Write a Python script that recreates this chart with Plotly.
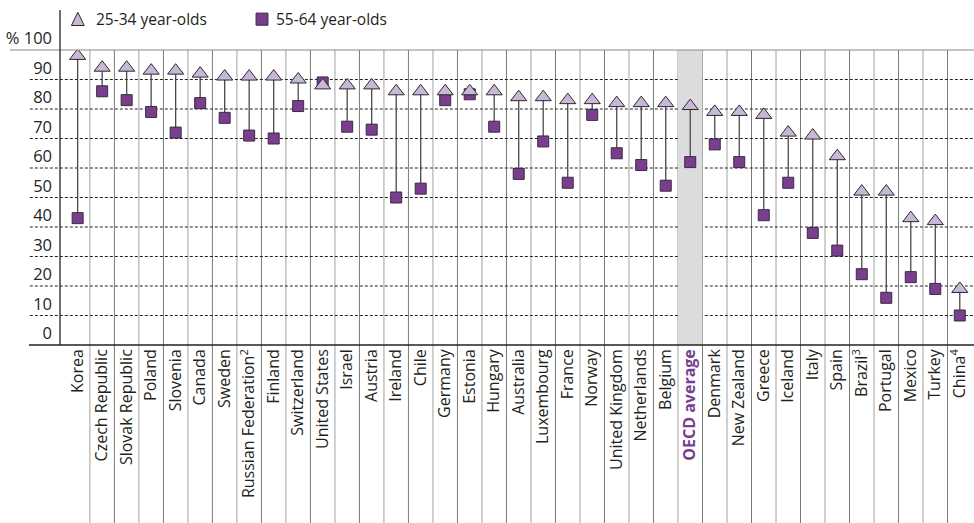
import plotly.graph_objects as go

countries = ["Korea", "Czech Republic", "Slovak Republic", "Poland", "Slovenia", "Canada",
             "Sweden", "Russian Federation<sup>2</sup>", "Finland", "Switzerland", "United States",
             "Israel", "Austria", "Ireland", "Chile", "Germany", "Estonia", "Hungary", "Australia",
             "Luxembourg", "France", "Norway", "United Kingdom", "Netherlands", "Belgium",
             "OECD average", "Denmark", "New Zealand", "Greece", "Iceland", "Italy", "Spain",
             "Brazil<sup>3</sup>", "Portugal", "Mexico", "Turkey", "China<sup>4</sup>"]
young = [98, 94, 94, 93, 93, 92, 91, 91, 91, 90, 88, 88, 88, 86, 86, 86, 86, 86, 84, 84, 83,
         83, 82, 82, 82, 81, 79, 79, 78, 72, 71, 64, 52, 52, 43, 42, 19]
old = [43, 86, 83, 79, 72, 82, 77, 71, 70, 81, 89, 74, 73, 50, 53, 83, 85, 74, 58, 69, 55,
       78, 65, 61, 54, 62, 68, 62, 44, 55, 38, 32, 24, 16, 23, 19, 10]
ytick_vals = [0, 10, 20, 30, 40, 50, 60, 70, 80, 90, 100]
ytick_text = ["0", "10", "20", "30", "40", "50", "60", "70", "80", "90", "% 100"]
legend_names = ["25-34 year-olds", "55-64 year-olds"]
highlight = "OECD average"

TXT = "#231f20"
PURPLE = "#7a3e8f"
LILAC = "#c9b7d8"
FONT = "Open Sans"

n = len(countries)
xs = list(range(n))
hi = countries.index(highlight)
xmin = -0.72
ticktext = [f"<b><span style='color:{PURPLE}'>{c}</span></b>" if c == highlight else c
            for c in countries]

lx, ly = [], []
for i in xs:
    lx += [i, i, None]
    ly += [young[i], old[i], None]

fig = go.Figure()
fig.add_trace(go.Scatter(x=lx, y=ly, mode="lines", line=dict(color="#4a4a4a", width=1.3),
                         showlegend=False, hoverinfo="skip"))
fig.add_trace(go.Scatter(x=xs, y=old, mode="markers", name=legend_names[1],
                         marker=dict(symbol="square", size=11, color=PURPLE,
                                     line=dict(color="#3a2a40", width=1)), showlegend=False))
fig.add_trace(go.Scatter(x=xs, y=young, mode="markers", name=legend_names[0],
                         marker=dict(symbol="triangle-up", size=14, color=LILAC,
                                     line=dict(color="#2a2a2a", width=1)), showlegend=False))

shapes = []
# highlight band
shapes.append(dict(type="rect", xref="x", yref="y", x0=hi - 0.5, x1=hi + 0.5, y0=0, y1=100,
                   fillcolor="#dcdcde", line=dict(width=0), layer="below"))
# column separators extending into label area
for k in range(n - 1):
    shapes.append(dict(type="line", xref="x", yref="paper", x0=k + 0.5, x1=k + 0.5,
                       y0=-0.61, y1=1, line=dict(color="#a0a0a0" if k % 2 == 0 else "#7a7a7a",
                                                 width=1), layer="below"))
# dashed gridlines
for v in ytick_vals[1:-1]:
    shapes.append(dict(type="line", xref="paper", yref="y", x0=-0.033, x1=1, y0=v, y1=v,
                       line=dict(color="#222", width=1, dash="3px,2px"), layer="below"))
# top line and baseline
shapes.append(dict(type="line", xref="paper", yref="paper", x0=-0.055, x1=1, y0=1, y1=1,
                   line=dict(color="#8a8a8a", width=1.2)))
shapes.append(dict(type="line", xref="paper", yref="paper", x0=-0.034, x1=1, y0=0, y1=0,
                   line=dict(color="#222", width=1.3)))
# y axis line (extended above plot)
shapes.append(dict(type="line", xref="paper", yref="paper", x0=0, x1=0,
                   y0=0, y1=1.136, line=dict(color="#222", width=1.3)))
# legend symbols
shapes.append(dict(type="path", xref="paper", yref="paper",
                   path="M 0.0125 1.083 L 0.0265 1.083 L 0.0195 1.128 Z",
                   fillcolor=LILAC, line=dict(color="#2a2a2a", width=1)))
shapes.append(dict(type="rect", xref="paper", yref="paper", x0=0.2145, x1=0.2275,
                   y0=1.084, y1=1.125, fillcolor=PURPLE, line=dict(color="#3a2a40", width=1)))

annotations = [
    dict(xref="paper", yref="paper", x=0.037, y=1.106, text=legend_names[0], showarrow=False,
         xanchor="left", yanchor="middle", font=dict(family=FONT, size=15.5, color=TXT)),
    dict(xref="paper", yref="paper", x=0.234, y=1.106, text=legend_names[1], showarrow=False,
         xanchor="left", yanchor="middle", font=dict(family=FONT, size=15.5, color=TXT)),
]

fig.update_layout(
    width=974, height=523,
    margin=dict(l=60, r=0, t=50, b=178),
    paper_bgcolor="white", plot_bgcolor="rgba(0,0,0,0)",
    showlegend=False,
    shapes=shapes, annotations=annotations,
    xaxis=dict(range=[xmin, n - 0.42], tickmode="array", tickvals=xs, ticktext=ticktext,
               tickangle=-90, ticks="", showgrid=False, zeroline=False, showline=False,
               tickfont=dict(family=FONT, size=16, color=TXT), fixedrange=True),
    yaxis=dict(range=[0, 100], tickmode="array", tickvals=ytick_vals, ticktext=ytick_text,
               ticklabelposition="outside top", ticks="", ticklabelstandoff=7,
               showgrid=False, zeroline=False, showline=False,
               tickfont=dict(family=FONT, size=16.5, color=TXT), fixedrange=True),
)

fig.write_html("out.html", config={"displayModeBar": False},
               post_script="document.body.style.margin='0';document.body.style.overflow='hidden';")
